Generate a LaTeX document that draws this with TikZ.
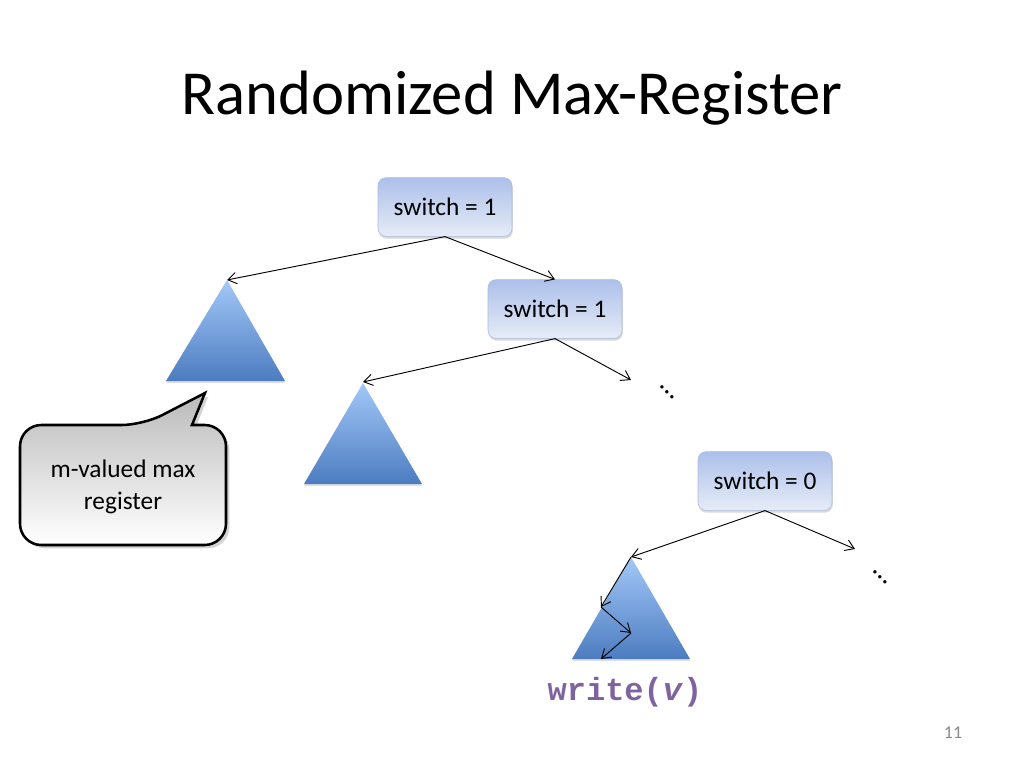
\documentclass[tikz,border=0pt]{standalone}
\usepackage{fontspec}
\setmainfont{Carlito}
\newfontfamily\monob{Liberation Mono}
\usetikzlibrary{shadows,arrows.meta}
\definecolor{boxtop}{HTML}{ADC0EA}
\definecolor{boxbot}{HTML}{E6ECF7}
\definecolor{boxedge}{HTML}{A9BBE0}
\definecolor{tritop}{HTML}{A3C8F8}
\definecolor{tribot}{HTML}{4C7CC0}
\definecolor{wpurple}{HTML}{7F63A1}
\definecolor{pgnum}{HTML}{8A8A8A}
\begin{document}
\begin{tikzpicture}[x=0.75pt,y=-0.75pt,
  sw/.style={rectangle, rounded corners=6pt, minimum width=100.5pt, minimum height=44pt,
    top color=boxtop, bottom color=boxbot, draw=boxedge, line width=0.4pt,
    font=\fontsize{19}{22}\selectfont,
    drop shadow={shadow xshift=0.6pt,shadow yshift=-1.8pt,opacity=0.3}},
  arr/.style={-{Straight Barb[length=6.5pt,width=8.5pt]}, line width=0.7pt},
  tri/.style={top color=tritop, bottom color=tribot,
    drop shadow={shadow xshift=0pt,shadow yshift=-1.6pt,opacity=0.25}},
  dots/.style={rotate=-45, font=\fontsize{21}{24}\selectfont, inner sep=0pt},
  callout/.style={draw=black, line width=1.9pt, top color=black!27, bottom color=white,
    drop shadow={shadow xshift=2.5pt,shadow yshift=-2.5pt,opacity=0.35}},
]
\useasboundingbox (0,0) rectangle (1024,768);

% title
\node (title) at (512,98) {\fontsize{47}{56}\selectfont Randomized Max-Register};

% switch boxes
\node[sw] (b1) at (445,207) {switch = 1};
\node[sw] (b2) at (555,309) {switch = 1};
\node[sw] (b3) at (765,481) {switch = 0};

% triangles
\shade[tri] (227,280) -- (285,381) -- (166,381) -- cycle;
\shade[tri] (363,383) -- (422,484) -- (304,484) -- cycle;
\shade[tri] (631,557) -- (690,659) -- (572,659) -- cycle;
\coordinate (t1) at (227,280);
\coordinate (t2) at (363,382);
\coordinate (t3) at (631,557);
\coordinate (z1) at (601,607);
\coordinate (z2) at (631,633);
\coordinate (z3) at (601,659);
\coordinate (e1) at (631,380);
\coordinate (e2) at (855,549);

% connectors
\draw[arr] (b1.south) -- (t1);
\draw[arr] (b1.south) -- (b2.north);
\draw[arr] (b2.south) -- (t2);
\draw[arr] (b2.south) -- (e1);
\draw[arr] (b3.south) -- (t3);
\draw[arr] (b3.south) -- (e2);
\draw[arr] (t3) -- (z1);
\draw[arr] (z1) -- (z2);
\draw[arr] (z2) -- (z3);

% ellipses
\node[dots] (d1) at (667,392) {…};
\node[dots] (d2) at (880,577) {…};

% callout
\draw[callout] (20,485) [rounded corners=16pt] |- (143,425) [sharp corners] -- (205,393) -- (192,425)
  [rounded corners=16pt] -| (226,485) |- (20,545) -- cycle;
\node[align=center, font=\fontsize{19}{24}\selectfont] (cl) at (123,487) {m-valued max\\register};

% write(v)
\node[text=wpurple, font=\fontsize{24}{28}\selectfont\monob\bfseries] (w) at (625,692) {write(\textit{v})};

% page number
\node[text=pgnum, font=\fontsize{13.5}{16}\selectfont] (pg) at (953,733) {11};
\end{tikzpicture}
\end{document}
